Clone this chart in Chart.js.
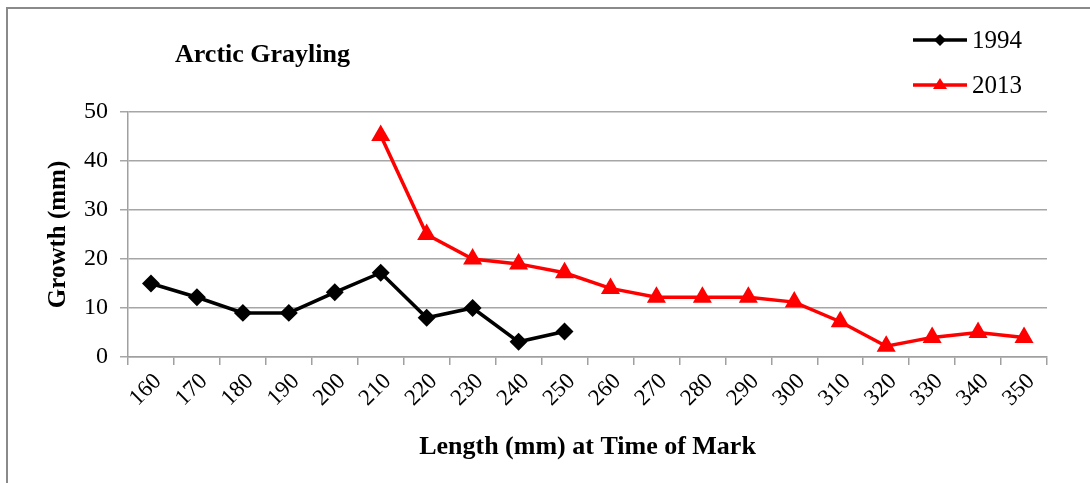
<!DOCTYPE html>
<html>
<head>
<meta charset="utf-8">
<script src="https://cdn.jsdelivr.net/npm/chart.js@4/dist/chart.umd.min.js"></script>
<style>
  html, body { margin: 0; padding: 0; background: #fff; }
  #wrap { position: relative; width: 1090px; height: 483px; overflow: hidden; }
  #frame { position: absolute; left: 6px; top: 7px; width: 1200px; height: 600px;
           border-left: 2px solid #8a8a8a; border-top: 2px solid #8a8a8a; }
  #myLineChart { position: absolute; left: 0; top: 0; }
</style>
</head>
<body>
<div id="wrap">
  <div id="frame"></div>
  <canvas id="myLineChart" width="1090" height="483"></canvas>
</div>
<script>
// du lieu doc tu hinh
var lengthLabels = ['160', '170', '180', '190', '200', '210', '220', '230', '240', '250',
  '260', '270', '280', '290', '300', '310', '320', '330', '340', '350'];
var growth1994 = [15, 12.2, 9, 9, 13.2, 17.2, 8, 10, 3.1, 5.2,
  null, null, null, null, null, null, null, null, null, null];
var growth2013 = [null, null, null, null, null, 45.2, 25, 20, 19, 17.2,
  14, 12.2, 12.2, 12.2, 11.2, 7.2, 2.2, 4, 5, 4];
var yTicks = [0, 10, 20, 30, 40, 50];

var _myChart = null;
var serif = "'Liberation Serif', 'Times New Roman', serif";

// ve tieu de va chu thich
var titleLegendPlugin = {
  id: 'titleLegend',
  afterDraw: function (chart) {
    var ctx = chart.ctx;
    ctx.save();
    ctx.fillStyle = '#000';
    ctx.font = 'bold 26px ' + serif;
    ctx.textBaseline = 'alphabetic';
    ctx.textAlign = 'left';
    ctx.fillText('Arctic Grayling', 175, 62);

    chart.data.datasets.forEach(function (ds, i) {
      var y = 40 + i * 45;
      ctx.strokeStyle = ds.borderColor;
      ctx.lineWidth = ds.borderWidth;
      ctx.beginPath();
      ctx.moveTo(913, y);
      ctx.lineTo(967, y);
      ctx.stroke();
      ctx.fillStyle = ds.borderColor;
      ctx.beginPath();
      if (ds.pointStyle === 'triangle') {
        ctx.moveTo(940, y - 7);
        ctx.lineTo(947, y + 4);
        ctx.lineTo(933, y + 4);
      } else {
        ctx.moveTo(940, y - 6);
        ctx.lineTo(946, y);
        ctx.lineTo(940, y + 6);
        ctx.lineTo(934, y);
      }
      ctx.closePath();
      ctx.fill();
      ctx.fillStyle = '#000';
      ctx.font = '25px ' + serif;
      ctx.textBaseline = 'middle';
      ctx.fillText(ds.label, 972, y + 1);
    });
    ctx.restore();
  }
};

function buildLineChart() {
  var data = {
    labels: lengthLabels,
    datasets: [
      {
        label: '1994',
        data: growth1994,
        borderColor: '#000000',
        backgroundColor: '#000000',
        borderWidth: 3.5,
        pointStyle: 'rectRot',
        pointRadius: 6.5,
        pointHoverRadius: 6.5,
        tension: 0
      },
      {
        label: '2013',
        data: growth2013,
        borderColor: '#ff0000',
        backgroundColor: '#ff0000',
        borderWidth: 3.5,
        pointStyle: 'triangle',
        pointRadius: 7.5,
        pointHoverRadius: 7.5,
        tension: 0
      }
    ]
  };

  var options = {
    responsive: false,
    animation: false,
    layout: { padding: { top: 112, right: 43, bottom: 0, left: 0 } },
    plugins: {
      legend: { display: false },
      title: { display: false },
      tooltip: { enabled: false }
    },
    scales: {
      x: {
        offset: true,
        afterFit: function (scale) { scale.height = 126; },
        grid: {
          offset: true,
          drawOnChartArea: false,
          drawTicks: true,
          tickLength: 8,
          color: '#a0a0a0',
          lineWidth: 1.5
        },
        border: { color: '#a0a0a0', width: 1.5 },
        ticks: {
          minRotation: 45,
          maxRotation: 45,
          autoSkip: false,
          padding: 3,
          labelOffset: 7,
          color: '#000',
          font: { family: serif, size: 23 }
        },
        title: {
          display: true,
          text: 'Length (mm) at Time of Mark',
          color: '#000',
          font: { family: serif, size: 26, weight: 'bold' },
          padding: { top: 0, bottom: 20 }
        }
      },
      y: {
        min: 0,
        max: 50,
        afterFit: function (scale) { scale.width = 128; },
        afterBuildTicks: function (scale) {
          scale.ticks = yTicks.map(function (v) { return { value: v }; });
        },
        grid: {
          color: '#a6a6a6',
          lineWidth: 1.5,
          tickLength: 8
        },
        border: { color: '#a0a0a0', width: 1.5 },
        ticks: {
          padding: 12,
          color: '#000',
          font: { family: serif, size: 24 }
        },
        title: {
          display: true,
          text: 'Growth (mm)',
          color: '#000',
          font: { family: serif, size: 25, weight: 'bold' },
          padding: { top: 44, bottom: 0 }
        }
      }
    }
  };

  var ctx = document.getElementById('myLineChart').getContext('2d');
  _myChart = new Chart(ctx, {
    type: 'line',
    data: data,
    options: options,
    plugins: [titleLegendPlugin]
  });
}

buildLineChart();
</script>
</body>
</html>
